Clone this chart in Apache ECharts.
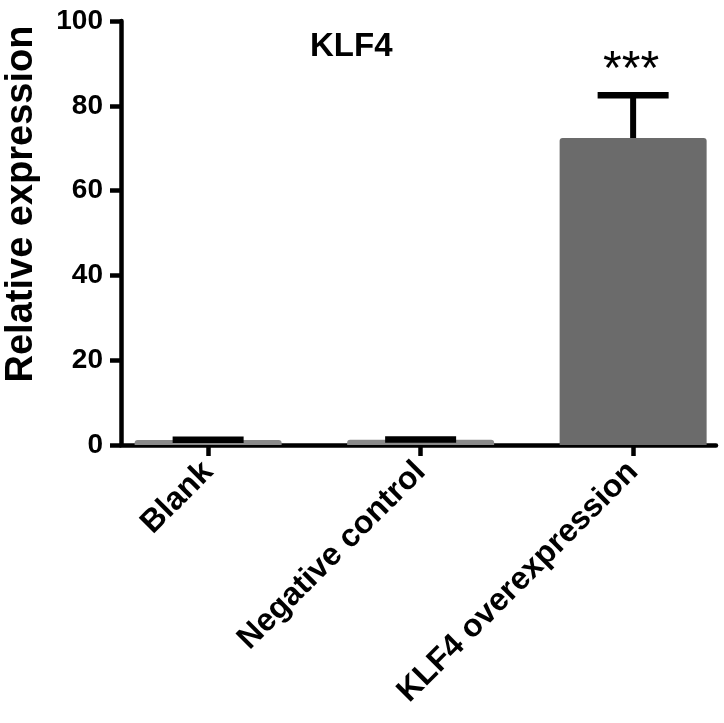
<!DOCTYPE html>
<html>
<head>
<meta charset="utf-8">
<script src="https://cdn.jsdelivr.net/npm/echarts@6/dist/echarts.min.js"></script>
<style>
html,body{margin:0;padding:0;background:#fff;}
#chart{width:724px;height:723px;}
</style>
</head>
<body>
<div id="chart"></div>
<script>
// ---- data ----
const categories = ['Blank', 'Negative control', 'KLF4 overexpression'];
const means = [1.2, 1.25, 72.4];
const errors = [0.05, 0.05, 10.1];
const significance = ['', '', '***'];
const yTicks = [0, 20, 40, 60, 80, 100];
const chartTitle = 'KLF4';
const yTitle = 'Relative expression';

const FONT = '"Liberation Sans", Arial, Helvetica, sans-serif';
const chart = echarts.init(document.getElementById('chart'), null, {renderer: 'canvas'});

const barData = means.map((m, i) => [i, m]);
const errData = means.map((m, i) => [i, m, errors[i]]);

const option = {
  backgroundColor: '#ffffff',
  animation: false,
  title: {
    text: chartTitle,
    left: 310,
    top: 30,
    padding: 0,
    textStyle: {fontFamily: FONT, fontWeight: 'bold', fontSize: 33, color: '#000'}
  },
  grid: {left: 121, right: 8, top: 21, bottom: 278, containLabel: false, outerBoundsMode: 'none'},
  xAxis: {
    type: 'value',
    min: -0.41,
    max: 2.39,
    splitLine: {show: false},
    axisLine: {show: true, onZero: false, lineStyle: {color: '#000', width: 4.5}},
    axisTick: {show: true, customValues: categories.map((c, i) => i), length: 11, lineStyle: {color: '#000', width: 4.5}},
    axisLabel: {
      show: true,
      customValues: categories.map((c, i) => i),
      formatter: v => categories[Math.round(v)] || '',
      rotate: 45,
      margin: 22,
      fontFamily: FONT, fontWeight: 'bold', fontSize: 32, color: '#000'
    }
  },
  yAxis: {
    type: 'value',
    min: 0,
    max: 100,
    interval: 20,
    splitLine: {show: false},
    axisLine: {show: true, onZero: false, lineStyle: {color: '#000', width: 4.5}},
    axisTick: {show: true, length: 11, lineStyle: {color: '#000', width: 4.5}},
    axisLabel: {
      margin: 18,
      formatter: v => (yTicks.indexOf(v) >= 0 ? String(v) : ''),
      fontFamily: FONT, fontWeight: 'bold', fontSize: 28, color: '#000'
    },
    name: yTitle,
    nameLocation: 'middle',
    nameGap: 80,
    nameRotate: 90,
    nameTextStyle: {fontFamily: FONT, fontWeight: 'bold', fontSize: 38, color: '#000', padding: [0, 0, 0, 58]}
  },
  series: [
    {
      type: 'bar',
      data: barData,
      barWidth: 147,
      itemStyle: {
        color: p => (p.value[1] < 5 ? '#8a8a8a' : '#6b6b6b'),
        borderRadius: [3, 3, 0, 0]
      },
      z: 2
    },
    {
      type: 'custom',
      data: errData,
      z: 3,
      renderItem: function (params, api) {
        const i = api.value(0);
        const m = api.value(1);
        const e = api.value(2);
        const base = api.coord([i, m]);
        const top = api.coord([i, m + e]);
        const half = 35.5;
        const children = [
          {type: 'line', shape: {x1: top[0], y1: base[1], x2: top[0], y2: top[1]}, style: {stroke: '#000', lineWidth: 6}},
          {type: 'line', shape: {x1: top[0] - half, y1: top[1], x2: top[0] + half, y2: top[1]}, style: {stroke: '#000', lineWidth: 6.5}}
        ];
        const sig = significance[params.dataIndex];
        if (sig) {
          children.push({
            type: 'text',
            style: {
              text: sig, x: top[0] - 2, y: top[1] - 24,
              align: 'center', verticalAlign: 'middle',
              font: 'normal 48px ' + FONT, fill: '#000'
            }
          });
        }
        return {type: 'group', children: children};
      }
    }
  ]
};
chart.setOption(option);
</script>
</body>
</html>
